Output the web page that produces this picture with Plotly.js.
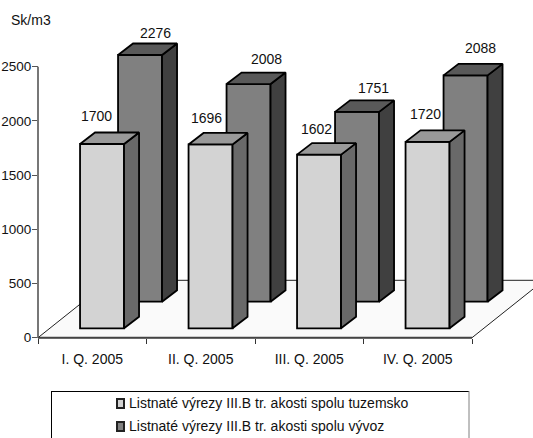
<!DOCTYPE html>
<html><head><meta charset="utf-8">
<script src="https://cdn.plot.ly/plotly-3.0.1.min.js"></script>
<style>html,body{margin:0;padding:0;background:#fff;overflow:hidden}</style>
</head><body><div id="chart" style="width:533px;height:438px"></div>
<script>
// ---- data ----
const quarters = ["I. Q. 2005","II. Q. 2005","III. Q. 2005","IV. Q. 2005"];
const domestic = [1700,1696,1602,1720];
const exportVals = [2276,2008,1751,2088];
const seriesNames = ["Listnaté výrezy III.B tr. akosti spolu tuzemsko","Listnaté výrezy III.B tr. akosti spolu vývoz"];
const yTicks = [0,500,1000,1500,2000,2500];

// ---- 3D look: pixel frame of the axes, converted to axis units ----
const W=533,H=438,L=38,R=472,Y0=337.7,YT=66.7;
const ux=(R-L)/4, uy=(Y0-YT)/2500;
const xRange=[-0.5-L/ux, 3.5+(W-R)/ux];
const yRange=[-(H-Y0)/uy, Y0/uy];
const depthX=15/ux, depthY=11.5/uy;
const barW=44/ux;
const frontOff=-12.2/ux, backOff=25.8/ux;
const frontBase=9.4/uy, backBase=36/uy;
const font={family:"Liberation Sans, Arial, sans-serif",size:14,color:"#111"};
const idx=quarters.map((_,i)=>i);
const edge=1.8;

function poly(pts,fill,xa,ya){
  return {type:"scatter",mode:"lines",x:pts.map(p=>p[0]),y:pts.map(p=>p[1]),fill:"toself",fillcolor:fill,
    line:{color:"#000",width:edge,simplify:false},hoverinfo:"skip",showlegend:false,xaxis:xa,yaxis:ya};
}
function series(vals,off,base,face,top,side,xa,ya,name){
  const t=[{type:"bar",x:idx,y:vals,base:base,offset:off,width:barW,name:name,
    marker:{color:face,line:{color:"#000",width:edge}},xaxis:xa,yaxis:ya}];
  vals.forEach((v,i)=>{
    const a=i+off,b=a+barW,y1=base+v;
    t.push(poly([[b,base],[b+depthX,base+depthY],[b+depthX,y1+depthY],[b,y1],[b,base]],side,xa,ya));
    t.push(poly([[a,y1],[a+depthX,y1+depthY],[b+depthX,y1+depthY],[b,y1],[a,y1]],top,xa,ya));
  });
  return t;
}
const floorDX=72/ux, floorDY=(Y0-280.3)/uy;
const floor={type:"scatter",mode:"lines",
  x:[-0.5,3.5,3.5+floorDX,-0.5+floorDX,-0.5],y:[0,0,floorDY,floorDY,0],
  fill:"toself",fillcolor:"#fafafa",line:{color:"#222",width:1},hoverinfo:"skip",showlegend:false,xaxis:"x",yaxis:"y"};

const traces=[floor]
  .concat(series(exportVals,backOff,backBase,"#808080","#595959","#404040","x2","y2",seriesNames[1]))
  .concat(series(domestic,frontOff,frontBase,"#d3d3d3","#999999","#696969","x3","y3",seriesNames[0]));
traces.push({type:"scatter",x:[],y:[],xaxis:"x4",yaxis:"y",showlegend:false,hoverinfo:"skip"});

const frontNudge=[[-6,-28],[-4,-26],[-3,-26],[-2,-28]];
const backNudge=[[15,-22],[18,-25],[16,-24],[15,-27]];
const annotations=[];
function labels(vals,off,base,nudge){
  vals.forEach((v,i)=>annotations.push({xref:"x",yref:"y",x:i+off+barW/2,y:base+v,text:String(v),showarrow:false,
    xshift:nudge[i][0],yshift:-nudge[i][1],font:font,xanchor:"center",yanchor:"middle"}));
}
labels(domestic,frontOff,frontBase,frontNudge);
labels(exportVals,backOff,backBase,backNudge);
const px=v=>v/W, py=v=>1-v/H;
annotations.push({xref:"paper",yref:"paper",x:px(31),y:py(20),text:"Sk/m3",showarrow:false,font:font,xanchor:"center",yanchor:"middle"});
annotations.push({xref:"paper",yref:"paper",x:px(127),y:py(403),text:seriesNames[0],showarrow:false,font:font,xanchor:"left",yanchor:"middle"});
annotations.push({xref:"paper",yref:"paper",x:px(127),y:py(426),text:seriesNames[1],showarrow:false,font:font,xanchor:"left",yanchor:"middle"});

const rect=(x0,y0,x1,y1,fill)=>({type:"rect",xref:"paper",yref:"paper",x0:px(x0),x1:px(x1),y0:py(y0),y1:py(y1),fillcolor:fill,line:{color:"#222",width:2},layer:"above"});
const seg=(x0,y0,x1,y1,c)=>({type:"line",xref:"paper",yref:"paper",x0:px(x0),x1:px(x1),y0:py(y0),y1:py(y1),line:{color:c,width:1},layer:"above"});
const shapes=[
  seg(51,391.5,469,391.5,"#000"),seg(51.5,391,51.5,438,"#000"),seg(469,391,469,438,"#808080"),
  rect(117,399,124,408,"#d3d3d3"),rect(117,422,124,431,"#808080"),
  {type:"line",xref:"x",yref:"y",x0:-0.5,x1:-0.5,y0:0,y1:2500,line:{color:"#777",width:2},layer:"above"},
  {type:"line",xref:"x",yref:"y",x0:-0.5,x1:3.5,y0:0,y1:0,line:{color:"#444",width:2},layer:"above"}
];

const hiddenY={range:yRange,overlaying:"y",visible:false,fixedrange:true};
const hiddenX={range:xRange,overlaying:"x",visible:false,fixedrange:true};
const layout={
  width:W,height:H,showlegend:false,paper_bgcolor:"#fff",plot_bgcolor:"rgba(0,0,0,0)",
  margin:{l:0,r:0,t:0,b:0,pad:0,autoexpand:false},
  font:font,
  xaxis:{range:xRange,anchor:"free",position:1-Y0/H,tickmode:"array",tickvals:idx,ticktext:quarters,ticks:"",showgrid:false,zeroline:false,showline:false,fixedrange:true,ticklabelstandoff:11,tickfont:font},
  yaxis:{range:yRange,anchor:"free",position:L/W,tickmode:"array",tickvals:yTicks,ticks:"outside",ticklen:6,tickcolor:"#555",tickwidth:1,showgrid:false,zeroline:false,showline:false,fixedrange:true,ticklabelstandoff:-2,tickfont:{family:font.family,size:13.5,color:font.color}},
  xaxis2:hiddenX,yaxis2:hiddenY,xaxis3:hiddenX,yaxis3:hiddenY,
  xaxis4:{range:xRange,overlaying:"x",anchor:"free",position:1-Y0/H,side:"bottom",tickmode:"array",tickvals:[-0.5,0.5,1.5,2.5,3.5],ticks:"outside",ticklen:5,tickcolor:"#333",showticklabels:false,showgrid:false,zeroline:false,showline:false,fixedrange:true},
  annotations:annotations,shapes:shapes
};
traces.forEach(t=>{ if(t.xaxis==="x2"){t.yaxis="y2";} if(t.xaxis==="x3"){t.yaxis="y3";} });
Plotly.newPlot("chart",traces,layout,{displayModeBar:false,staticPlot:true});
</script></body></html>
